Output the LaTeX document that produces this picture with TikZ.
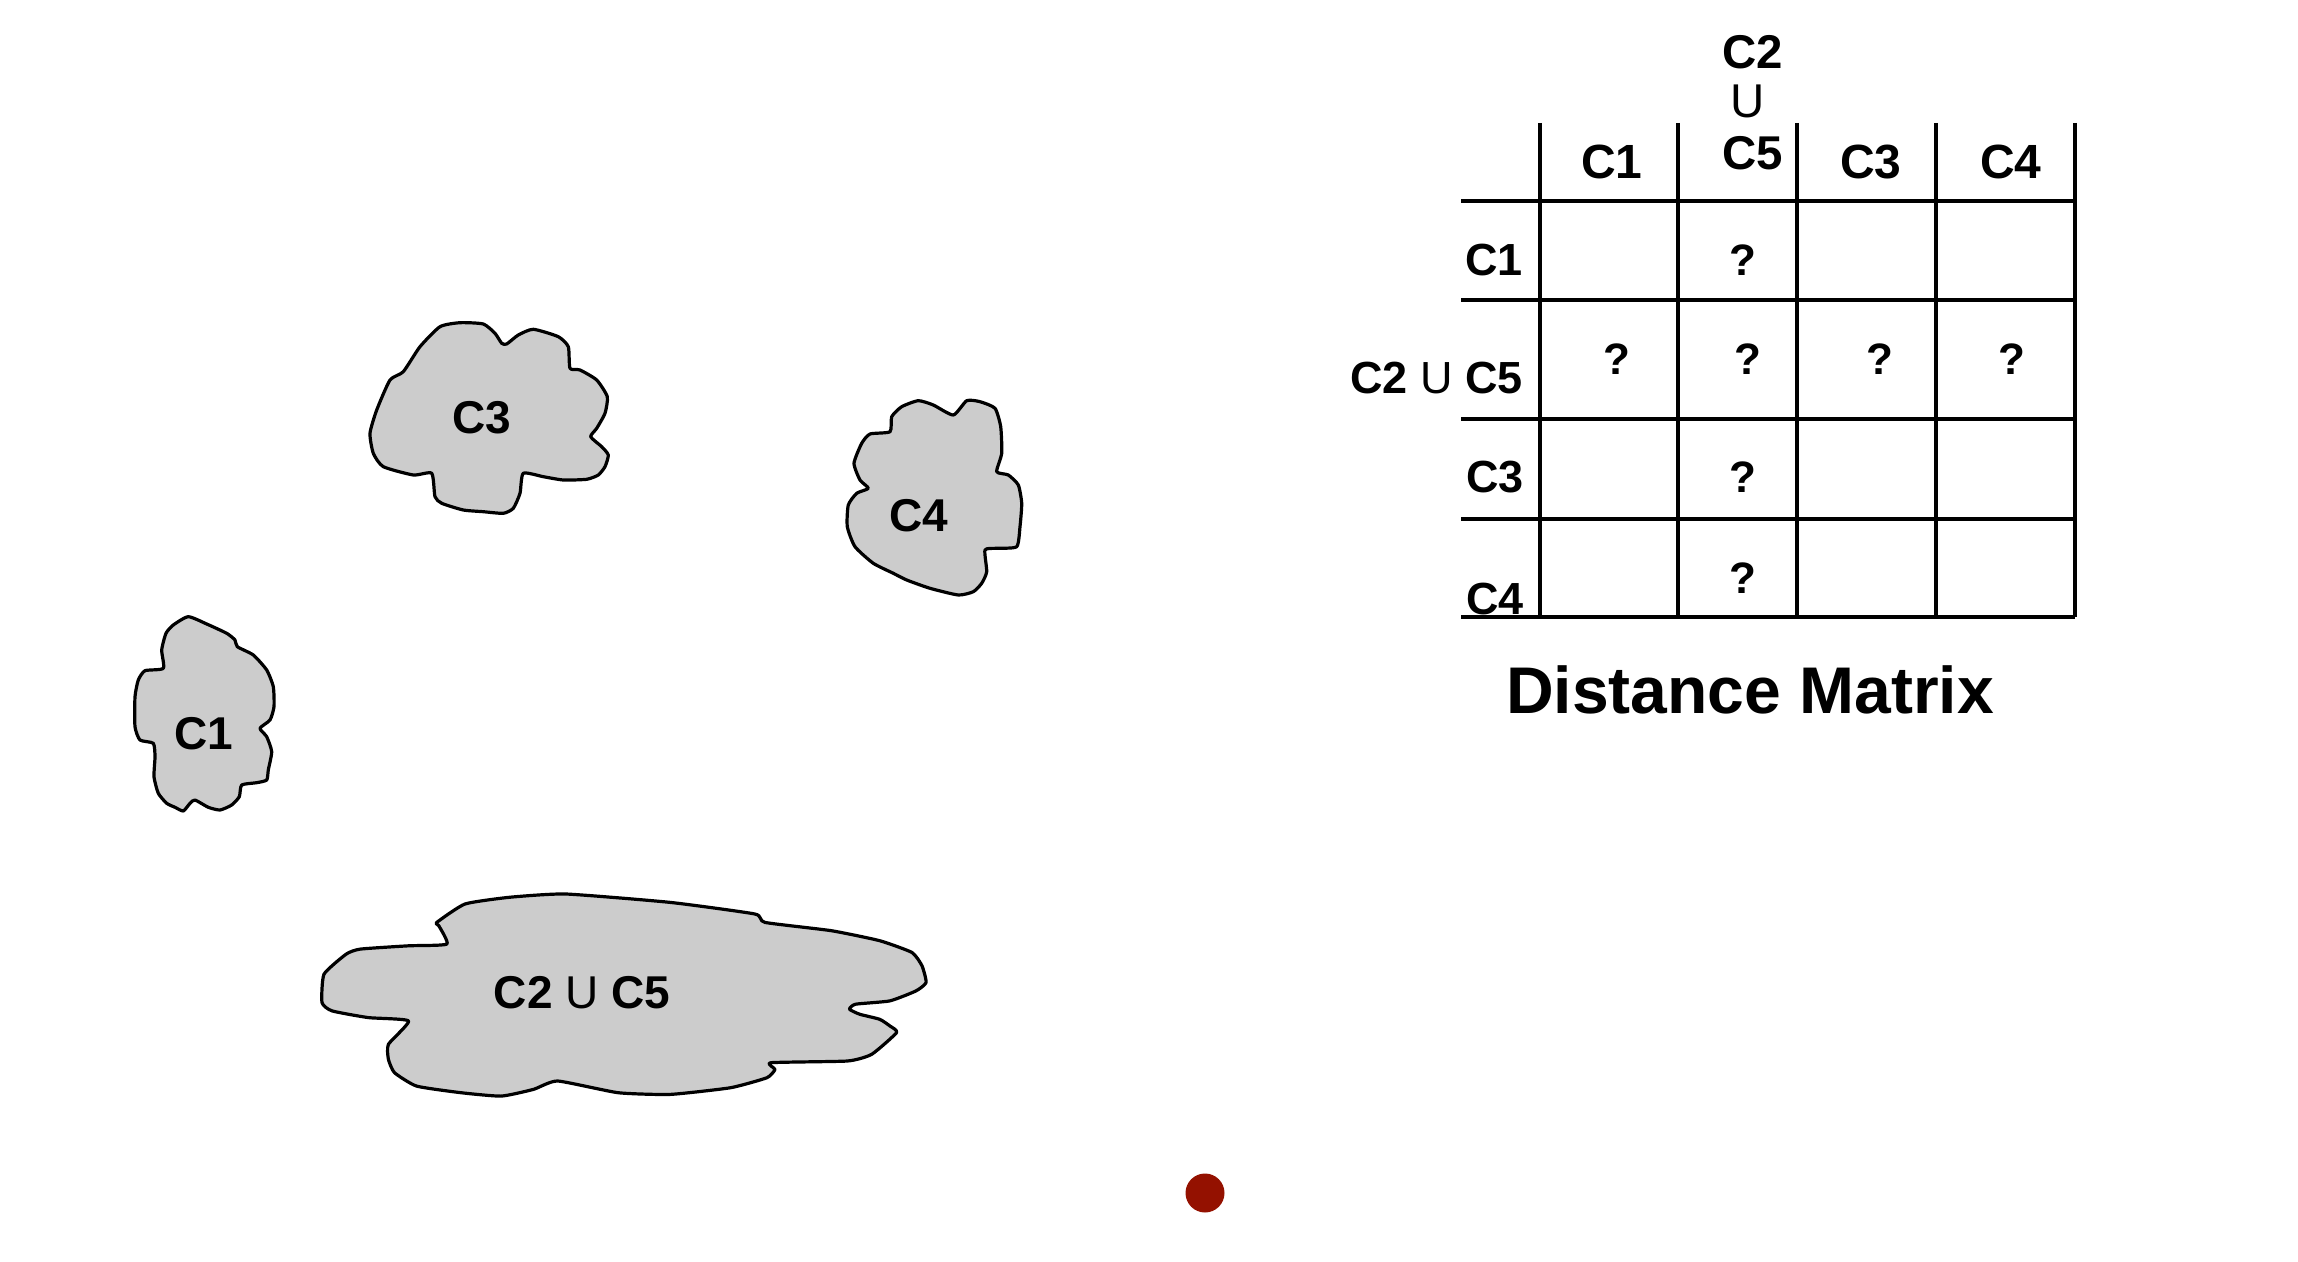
\documentclass[tikz,border=0pt]{standalone}
\usepackage{fontspec}
\setmainfont{Liberation Sans}
\definecolor{blobfill}{HTML}{CCCCCC}
\definecolor{dotred}{HTML}{941100}
\tikzset{
  blob/.style={draw=black, fill=blobfill, line width=1.6pt, line join=round},
  grid line/.style={draw=black, line width=1.6pt},
  blobtext/.style={font=\fontsize{23}{26}\selectfont\bfseries, inner sep=0pt},
  headtext/.style={font=\fontsize{24}{28}\selectfont\bfseries, inner sep=0pt, anchor=base},
  stacktext/.style={font=\fontsize{23.7}{27}\selectfont\bfseries, inner sep=0pt, anchor=base},
  rowtext/.style={font=\fontsize{22.5}{26}\selectfont\bfseries, inner sep=0pt, anchor=base east},
  qtext/.style={font=\fontsize{22}{26}\selectfont\bfseries, inner sep=0pt, anchor=base},
}
\begin{document}
\begin{tikzpicture}[x=0.5pt, y=-0.5pt]
\useasboundingbox (0,0) rectangle (2298,1262);

% C3 blob
\draw[blob] plot[smooth cycle, tension=0.35] coordinates {
(403.3,371.7) (420,346.7) (440,326.7) (460,322.7) (483.3,324) (495,333.3)
(501.7,343.3) (506.7,344) (518.3,335) (533.3,329.3) (558.3,336.7) (568.3,346.7)
(570,368.3) (580,370) (596.7,380) (607.3,396.7) (605,413.3) (596.7,428.3)
(590.7,436.7) (601.7,446.7) (608.3,455) (605,466.7) (598.3,475) (586.7,479.3)
(563.3,480) (543.3,476.7) (523.3,473.3) (520,493.3) (513.3,508.3) (503.3,513.3)
(483.3,511.7) (463.3,510) (441.7,503.3) (435,496.7) (431.7,473.3) (413.3,475)
(383.3,466.7) (373.3,453.3) (370,433.3) (376.7,410) (390,380)};
\node[blobtext] (c3) at (482,418) {C3};

% C4 blob
\draw[blob] plot[smooth cycle, tension=0.35] coordinates {
(890,431.7) (891.7,416.7) (901.7,406.7) (918.3,400.7) (933.3,405) (953.3,415)
(966.7,400.7) (980,401.7) (995,408.3) (1000.7,426.7) (1001.7,453.3) (996.7,471.7)
(1008.3,475) (1018.3,485) (1021.7,503.3) (1020,526.7) (1016.7,546.7) (996.7,548.3)
(985,550) (986.7,571.7) (981.7,583.3) (973.3,591.7) (958.3,595) (930,588.3)
(906.7,580) (893.3,573.3) (873.3,563.3) (855,546.7) (847.3,526.7) (848.3,505)
(856.7,493.3) (868.3,488.3) (860,480) (854,463.3) (861.7,443.3) (870,434)};
\node[blobtext] (c4) at (919,516) {C4};

% C1 blob
\draw[blob] plot[smooth cycle, tension=0.35] coordinates {
(188.3,616.7) (206.7,624) (226.7,633.3) (235,640) (237.3,646.7) (253.3,655)
(266.7,670) (273.3,686.7) (274,706.7) (270,720) (260,728.3) (266.7,736.7)
(271.7,751.7) (268.3,770) (266.7,780) (256.7,782.7) (241.7,785) (239.3,796.7)
(231.7,805) (220,810) (208.3,807.3) (195,800) (190,803.3) (183.3,811)
(175,807.3) (166.7,803.3) (158.3,793.3) (154,776.7) (155,756.7) (153.3,743.3)
(140,740) (135,726.7) (135,696.7) (138.3,680) (145,670.7) (163.3,668.3)
(161.7,650) (166,633.3) (173.3,625)};
\node[blobtext] (c1) at (204,734) {C1};

% C2 U C5 blob
\draw[blob] plot[smooth cycle, tension=0.3] coordinates {
(436.8,922.4) (465.0,904.0) (509.3,897.3) (565.6,894.0) (670.3,902.4) (754.9,914.0)
(764.9,922.4) (831.4,930.7) (879.7,940.7) (912.0,952.5) (922.0,965.8) (926.1,982.5)
(916.0,990.9) (889.8,1000.9) (855.6,1004.2) (849.5,1009.2) (859.6,1014.2) (879.7,1019.3)
(889.8,1025.9) (896.6,1032.6) (871.7,1054.3) (847.5,1061.0) (771.0,1062.7) (775.0,1069.4)
(767.0,1077.7) (730.7,1087.7) (670.3,1094.4) (618.0,1092.7) (557.6,1081.0) (533.4,1089.4)
(501.2,1096.1) (460.9,1092.7) (416.6,1086.1) (394.5,1072.7) (388.4,1059.3) (388.4,1044.3)
(408.6,1020.9) (368.3,1017.6) (332.1,1010.9) (322,1002.6) (324.0,974.2) (346.2,954.1)
(360.3,949.1) (408.6,945.8) (446.8,944.1) (438.8,925.7)};
\node[blobtext] (c25) at (582,993) {C2 \textmd{U} C5};

% red dot
\fill[dotred] (1205,1193) circle[radius=19.5];

% matrix grid
\foreach \x in {1540,1678,1797,1936,2075} {
  \draw[grid line] (\x,123) -- (\x,617);
}
\foreach \y in {201,300,419,519,617} {
  \draw[grid line] (1461,\y) -- (2075,\y);
}

% column headers
\node[headtext] (h1) at (1612,178.5) {C1};
\node[stacktext] (h2a) at (1753,68.5) {C2};
\node[stacktext, font=\fontsize{23.7}{27}\selectfont] (h2b) at (1748,118) {U};
\node[stacktext] (h2c) at (1753,170) {C5};
\node[headtext] (h3) at (1871,178.5) {C3};
\node[headtext] (h4) at (2011,178.5) {C4};

% row headers
\node[rowtext] (r1) at (1523,276) {C1};
\node[rowtext] (r2) at (1523,394) {C2 \textmd{U} C5};
\node[rowtext] (r3) at (1524,493) {C3};
\node[rowtext] (r4) at (1524,614) {C4};

% question marks
\node[qtext] (q12) at (1743,276) {?};
\node[qtext] (q21) at (1617,375) {?};
\node[qtext] (q22) at (1748,375) {?};
\node[qtext] (q23) at (1880,375) {?};
\node[qtext] (q24) at (2012,375) {?};
\node[qtext] (q32) at (1743,493) {?};
\node[qtext] (q42) at (1743,593) {?};

% title
\node[font=\fontsize{33}{38}\selectfont\bfseries, inner sep=0pt, anchor=base] (title) at (1750,713) {Distance Matrix};
\end{tikzpicture}
\end{document}
